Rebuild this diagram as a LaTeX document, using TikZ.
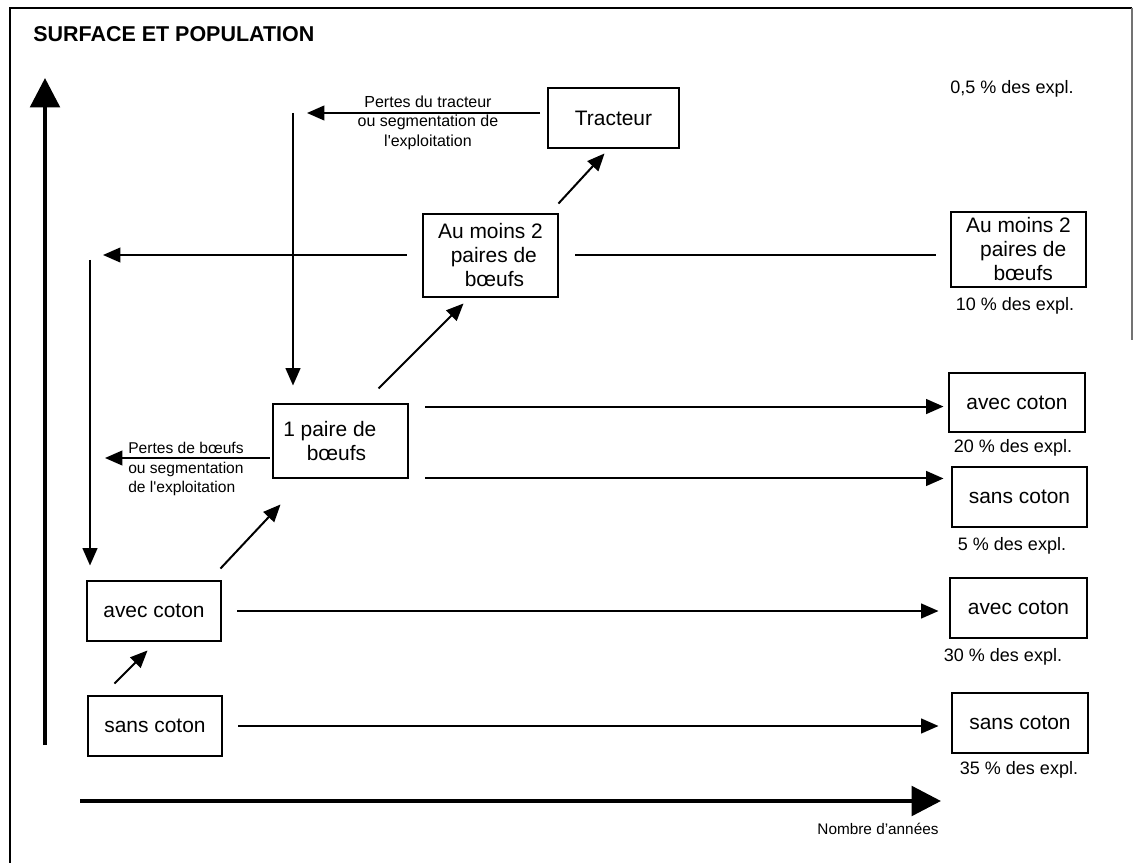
\documentclass[tikz,border=0pt]{standalone}
\usepackage{fontspec}
\setmainfont{Liberation Sans}
\usetikzlibrary{arrows.meta,calc}
\tikzset{
  box/.style={draw, line width=2.2pt, inner sep=0pt, align=center, font=\fontsize{15.7}{18}\selectfont},
  arr/.style={line width=1.5pt, -{Triangle[length=13pt,width=11pt]}},
  plainline/.style={line width=1.5pt},
  axis/.style={line width=3.2pt, -{Triangle[length=22pt,width=22pt]}},
  pct/.style={inner sep=0pt, font=\fontsize{13.5}{16}\selectfont},
  lbl/.style={inner sep=0pt, align=center, font=\fontsize{12}{14.6}\selectfont},
  lbltwo/.style={inner sep=0pt, align=left, font=\fontsize{11.7}{14.3}\selectfont},
}
\begin{document}
\begin{tikzpicture}[x=0.75pt,y=-0.75pt]
\useasboundingbox (0,0) rectangle (1133,863);
% frame
\draw[line width=1.2pt] (10,863) -- (10,8) -- (1132,8);
\draw[line width=0.8pt, black!55] (1132,8) -- (1132,340);

% title
\node[anchor=west, inner sep=0pt, font=\bfseries\fontsize{16.1}{18}\selectfont] (title) at (33,34.5) {SURFACE ET POPULATION};

% boxes
\node[box, minimum width=98.25pt, minimum height=45pt] (trac) at (613.5,118) {Tracteur};
\node[box, minimum width=101.25pt, minimum height=62.25pt] (am2) at (490.5,255.5) {Au moins 2\\\hspace*{5pt}paires de\\\hspace*{6pt}bœufs};
\node[box, minimum width=101.25pt, minimum height=56.25pt] (am2r) at (1018.5,249.5) {Au moins 2\\\hspace*{7pt}paires de\\\hspace*{7pt}bœufs};
\node[box, minimum width=101.25pt, minimum height=55.5pt] (paire) at (340.5,441) {1 paire de\hspace*{16pt}\\bœufs\hspace*{6pt}};
\node[box, minimum width=100.5pt, minimum height=45pt] (avecL) at (154,611) {avec coton};
\node[box, minimum width=100.5pt, minimum height=45pt] (sansL) at (155,726) {sans coton};
\node[box, minimum width=102pt, minimum height=44.25pt] (avecRa) at (1017,402.5) {avec coton};
\node[box, minimum width=101.25pt, minimum height=45pt] (sansRa) at (1019.5,497) {sans coton};
\node[box, minimum width=102.75pt, minimum height=45pt] (avecRb) at (1018.5,608) {avec coton};
\node[box, minimum width=102pt, minimum height=45pt] (sansRb) at (1020,723) {sans coton};

% percentages
\node[pct] (l05) at (1012,88.5) {0,5 \% des expl.};
\node[pct] (l10) at (1015,306) {10 \% des expl.};
\node[pct] (l20) at (1013,448) {20 \% des expl.};
\node[pct] (l5) at (1012,546) {5 \% des expl.};
\node[pct] (l30) at (1003,657) {30 \% des expl.};
\node[pct] (l35) at (1019,770) {35 \% des expl.};

% axes
\coordinate (yb) at (45,745);
\coordinate (yt) at (45,78);
\draw[axis] (yb) -- (yt);
\coordinate (xb) at (80,801);
\coordinate (xt) at (941,801);
\draw[axis] (xb) -- (xt);
\node[inner sep=0pt, font=\fontsize{11.5}{14}\selectfont] (nb) at (878,829) {Nombre d’années};

% losses from tractor
\coordinate (ta) at (540,113);
\coordinate (tb) at (307,113);
\draw[arr] (ta) -- (tb);
\node[lbl] (ltr) at (428,122.5) {Pertes du tracteur\\ou segmentation de\\l\textquotesingle exploitation};
\coordinate (va) at (293,113);
\draw[arr, shorten >=12.75pt] (va) -- (va |- paire.north);

% losses from 2 pairs
\coordinate (tc) at (103,255);
\draw[arr, shorten <=11.25pt] (am2.west |- tc) -- (tc);
\coordinate (vb) at (90,260);
\draw[arr, shorten >=10.5pt] (vb) -- (vb |- avecL.north);
\draw[plainline, shorten <=12pt, shorten >=10.5pt] (am2.east |- tc) -- (am2r.west |- tc);

% losses from 1 pair
\coordinate (td) at (105,458);
\draw[arr, shorten <=1.5pt] (paire.west |- td) -- (td);
\node[lbltwo, anchor=west] (lbo) at (128,469) {Pertes de bœufs\\ou segmentation\\de l\textquotesingle exploitation};

% 1 pair to the right
\coordinate (pa) at ([yshift=-3pt]paire.north east);
\coordinate (pb) at ([yshift=0.75pt]paire.south east);
\draw[arr, shorten <=12pt, shorten >=3pt] (pa) -- (pa -| avecRa.west);
\draw[arr, shorten <=12pt, shorten >=5.25pt] (pb) -- (pb -| sansRa.west);

% cotton lines
\draw[arr, shorten <=11.25pt, shorten >=7.5pt] (avecL.east) -- (avecL.east -| avecRb.west);
\draw[arr, shorten <=11.25pt, shorten >=9pt] (sansL.east) -- (sansL.east -| sansRb.west);

% diagonals
\draw[arr] ($(sansL.north west)+(28,-11)$) -- ($(avecL.south west)+(62,8)$);
\draw[arr] ($(avecL.north east)+(-2,-11)$) -- ($(paire.south west)+(9,25)$);
\draw[arr] ($(paire.north west)+(107,-14)$) -- ($(am2.south west)+(42,5)$);
\draw[arr] ($(am2.north east)+(-1,-9)$) -- ($(trac.south west)+(58,4)$);
\end{tikzpicture}
\end{document}
